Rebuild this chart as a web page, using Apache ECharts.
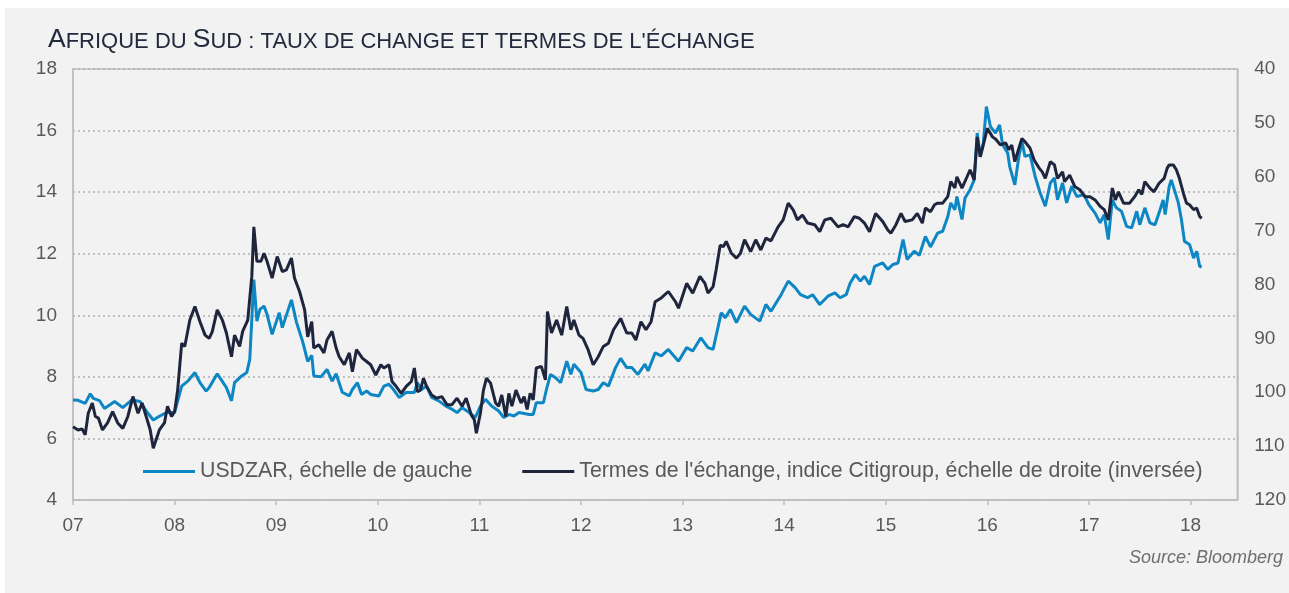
<!DOCTYPE html>
<html>
<head>
<meta charset="utf-8">
<script src="https://cdn.jsdelivr.net/npm/echarts@6/dist/echarts.min.js"></script>
<style>
  html, body { margin: 0; padding: 0; background: #fff; }
  #chart { width: 1289px; height: 593px; }
</style>
</head>
<body>
<div id="chart"></div>
<script>
// dates are decimal years
var yearTicks = [2007, 2008, 2009, 2010, 2011, 2012, 2013, 2014, 2015, 2016, 2017, 2018];

var zarDates = [
  2007.00, 2007.05, 2007.12, 2007.17, 2007.20, 2007.26, 2007.31, 2007.41, 2007.49, 2007.58, 2007.66, 2007.73, 2007.79, 2007.85, 2007.92,
  2008.00, 2008.07, 2008.13, 2008.20, 2008.25, 2008.31, 2008.34, 2008.42, 2008.51, 2008.56, 2008.59, 2008.66, 2008.71, 2008.74, 2008.78, 2008.81, 2008.84, 2008.88, 2008.91, 2008.96,
  2009.03, 2009.06, 2009.15, 2009.20, 2009.26, 2009.31, 2009.35, 2009.37, 2009.44, 2009.50, 2009.55, 2009.59, 2009.65, 2009.72, 2009.75, 2009.80, 2009.84, 2009.89, 2009.93,
  2010.01, 2010.06, 2010.11, 2010.14, 2010.21, 2010.28, 2010.36, 2010.39, 2010.43, 2010.48, 2010.53, 2010.60, 2010.67, 2010.73, 2010.78, 2010.83, 2010.90, 2010.96,
  2011.01, 2011.06, 2011.12, 2011.19, 2011.24, 2011.29, 2011.34, 2011.39, 2011.49, 2011.53, 2011.56, 2011.63, 2011.66, 2011.70, 2011.75, 2011.80, 2011.86, 2011.90, 2011.93,
  2012.00, 2012.05, 2012.12, 2012.17, 2012.22, 2012.27, 2012.34, 2012.39, 2012.45, 2012.50, 2012.56, 2012.63, 2012.66, 2012.73, 2012.79, 2012.86, 2012.96,
  2013.04, 2013.10, 2013.18, 2013.25, 2013.30, 2013.38, 2013.42, 2013.47, 2013.53, 2013.61, 2013.67, 2013.76, 2013.82, 2013.87, 2013.97,
  2014.04, 2014.11, 2014.16, 2014.23, 2014.28, 2014.35, 2014.43, 2014.50, 2014.55, 2014.61, 2014.65, 2014.70, 2014.75, 2014.79, 2014.84, 2014.89, 2014.97,
  2015.02, 2015.07, 2015.12, 2015.17, 2015.21, 2015.28, 2015.33, 2015.39, 2015.44, 2015.51, 2015.56, 2015.61, 2015.64, 2015.68, 2015.70, 2015.75, 2015.78, 2015.83, 2015.87, 2015.90, 2015.93, 2015.96, 2015.99,
  2016.03, 2016.08, 2016.12, 2016.15, 2016.20, 2016.22, 2016.27, 2016.31, 2016.34, 2016.37, 2016.42, 2016.47, 2016.52, 2016.57, 2016.62, 2016.66, 2016.69, 2016.74, 2016.78, 2016.83, 2016.88, 2016.95,
  2017.00, 2017.06, 2017.11, 2017.15, 2017.19, 2017.23, 2017.27, 2017.32, 2017.37, 2017.42, 2017.47, 2017.50, 2017.55, 2017.60, 2017.65, 2017.70, 2017.73, 2017.75, 2017.79, 2017.81, 2017.84, 2017.88, 2017.91, 2017.94, 2017.99,
  2018.03, 2018.06, 2018.09, 2018.11
];
var zarValues = [
  7.25, 7.24, 7.14, 7.45, 7.30, 7.23, 6.97, 7.20, 7.00, 7.25, 7.20, 6.85, 6.60, 6.72, 6.84,
  6.85, 7.70, 7.86, 8.14, 7.81, 7.54, 7.65, 8.10, 7.65, 7.22, 7.81, 8.03, 8.14, 8.57, 11.16, 9.81, 10.19, 10.30, 10.03, 9.38,
  10.08, 9.60, 10.50, 9.77, 9.15, 8.50, 8.70, 8.03, 8.00, 8.24, 7.86, 8.10, 7.50, 7.38, 7.59, 7.81, 7.43, 7.54, 7.43,
  7.38, 7.70, 7.76, 7.65, 7.33, 7.49, 7.49, 7.81, 7.59, 7.70, 7.33, 7.22, 7.05, 6.95, 6.84, 7.00, 6.84, 6.68,
  7.05, 7.27, 7.05, 6.89, 6.68, 6.78, 6.73, 6.84, 6.78, 6.78, 7.16, 7.16, 7.59, 8.08, 7.97, 7.81, 8.51, 8.08, 8.41,
  8.14, 7.59, 7.54, 7.59, 7.81, 7.70, 8.30, 8.60, 8.30, 8.30, 8.08, 8.41, 8.19, 8.78, 8.68, 8.89, 8.51,
  8.95, 8.84, 9.27, 8.95, 8.89, 10.08, 9.92, 10.19, 9.76, 10.30, 10.03, 9.81, 10.35, 10.13, 10.67,
  11.11, 10.89, 10.67, 10.57, 10.67, 10.35, 10.62, 10.73, 10.57, 10.67, 11.05, 11.32, 11.11, 11.27, 11.00, 11.59, 11.70,
  11.49, 11.65, 11.70, 12.46, 11.81, 12.08, 11.95, 12.56, 12.22, 12.67, 12.73, 13.20, 13.65, 13.43, 13.86, 13.11, 13.81, 14.08, 14.40, 15.92, 15.16, 15.59, 16.78,
  16.13, 15.92, 16.18, 15.54, 15.27, 14.83, 14.24, 15.16, 15.65, 15.16, 15.21, 14.51, 13.97, 13.54, 14.30, 14.46, 13.75, 14.30, 13.65, 14.19, 13.86, 13.92,
  13.59, 13.32, 13.00, 13.27, 12.46, 13.75, 13.49, 13.38, 12.89, 12.84, 13.38, 12.94, 13.49, 13.00, 12.94, 13.43, 13.75, 13.27, 14.19, 14.40, 14.08, 13.65, 13.11, 12.40, 12.30,
  11.86, 12.08, 11.59, 11.57
];

var totDates = [
  2007.00, 2007.05, 2007.09, 2007.12, 2007.15, 2007.19, 2007.22, 2007.25, 2007.29, 2007.34, 2007.39, 2007.44, 2007.49, 2007.54, 2007.59, 2007.64, 2007.68, 2007.73, 2007.76, 2007.79, 2007.85, 2007.90, 2007.93, 2007.97,
  2008.00, 2008.03, 2008.07, 2008.10, 2008.15, 2008.20, 2008.25, 2008.30, 2008.34, 2008.37, 2008.42, 2008.47, 2008.51, 2008.56, 2008.59, 2008.64, 2008.67, 2008.72, 2008.76, 2008.78, 2008.81, 2008.85, 2008.88, 2008.91, 2008.96,
  2009.01, 2009.06, 2009.10, 2009.15, 2009.18, 2009.23, 2009.28, 2009.31, 2009.35, 2009.37, 2009.42, 2009.47, 2009.50, 2009.55, 2009.59, 2009.62, 2009.67, 2009.72, 2009.75, 2009.79, 2009.85, 2009.89, 2009.93, 2009.98,
  2010.03, 2010.06, 2010.11, 2010.14, 2010.18, 2010.23, 2010.28, 2010.33, 2010.36, 2010.39, 2010.42, 2010.45, 2010.48, 2010.53, 2010.58, 2010.63, 2010.68, 2010.73, 2010.78, 2010.83, 2010.87, 2010.92, 2010.95, 2010.97,
  2011.01, 2011.04, 2011.07, 2011.11, 2011.16, 2011.19, 2011.22, 2011.26, 2011.29, 2011.32, 2011.36, 2011.41, 2011.44, 2011.47, 2011.50, 2011.53, 2011.56, 2011.61, 2011.65, 2011.67, 2011.71, 2011.76, 2011.81, 2011.86, 2011.90, 2011.93, 2011.98,
  2012.02, 2012.07, 2012.12, 2012.17, 2012.22, 2012.27, 2012.32, 2012.39, 2012.45, 2012.50, 2012.54, 2012.59, 2012.64, 2012.69, 2012.73, 2012.79, 2012.86, 2012.93, 2012.96,
  2013.04, 2013.10, 2013.17, 2013.22, 2013.25, 2013.30, 2013.33, 2013.37, 2013.40, 2013.43, 2013.48, 2013.53, 2013.57, 2013.61, 2013.67, 2013.72, 2013.77, 2013.82, 2013.87, 2013.94, 2013.99,
  2014.04, 2014.09, 2014.13, 2014.18, 2014.23, 2014.30, 2014.35, 2014.40, 2014.46, 2014.53, 2014.58, 2014.63, 2014.69, 2014.74, 2014.79, 2014.84, 2014.90, 2014.97,
  2015.02, 2015.05, 2015.10, 2015.15, 2015.19, 2015.26, 2015.31, 2015.36, 2015.39, 2015.44, 2015.48, 2015.51, 2015.56, 2015.61, 2015.64, 2015.68, 2015.70, 2015.75, 2015.80, 2015.83, 2015.87, 2015.90, 2015.93, 2015.96,
  2016.00, 2016.05, 2016.08, 2016.13, 2016.18, 2016.21, 2016.24, 2016.27, 2016.31, 2016.34, 2016.37, 2016.42, 2016.46, 2016.51, 2016.54, 2016.57, 2016.62, 2016.66, 2016.69, 2016.74, 2016.76, 2016.81, 2016.86, 2016.91, 2016.96,
  2017.01, 2017.06, 2017.11, 2017.15, 2017.19, 2017.23, 2017.26, 2017.29, 2017.34, 2017.40, 2017.45, 2017.49, 2017.52, 2017.55, 2017.60, 2017.64, 2017.69, 2017.74, 2017.77, 2017.79, 2017.83, 2017.86, 2017.89, 2017.93, 2017.96, 2017.99,
  2018.03, 2018.06, 2018.09, 2018.11
];
var totValues = [
  106.4, 107.0, 106.8, 107.9, 103.9, 102.0, 104.5, 104.8, 107.0, 105.7, 103.6, 105.7, 106.7, 104.5, 100.8, 103.9, 102.0, 105.1, 107.0, 110.4, 107.0, 105.7, 102.6, 104.5,
  103.6, 99.6, 90.9, 91.5, 86.6, 84.1, 86.9, 89.4, 90.0, 88.8, 84.7, 86.6, 89.0, 93.4, 89.4, 91.5, 88.7, 86.6, 78.5, 69.3, 75.7, 75.7, 74.2, 75.7, 78.8,
  74.8, 77.6, 77.3, 75.1, 78.8, 81.3, 84.7, 89.7, 86.9, 91.8, 91.2, 92.7, 90.3, 88.7, 91.8, 93.4, 94.9, 92.7, 96.2, 92.1, 93.7, 94.3, 94.9, 96.8,
  94.9, 95.5, 94.9, 98.0, 98.9, 100.2, 98.9, 98.0, 95.5, 99.9, 99.6, 97.4, 98.9, 100.5, 101.1, 100.8, 102.3, 102.3, 101.1, 102.6, 101.1, 104.2, 105.1, 107.6,
  103.9, 99.6, 97.4, 98.3, 102.0, 102.6, 100.5, 104.5, 100.2, 102.6, 99.6, 102.0, 100.8, 103.2, 100.2, 101.4, 95.5, 95.2, 97.7, 85.0, 89.0, 86.6, 89.4, 84.1, 88.4, 86.6, 89.4,
  90.0, 92.1, 94.9, 93.4, 91.5, 90.9, 88.4, 86.3, 89.0, 89.0, 90.3, 86.9, 88.4, 86.9, 83.2, 82.5, 81.3, 83.2, 84.4,
  79.8, 81.6, 78.5, 79.8, 81.6, 80.4, 77.3, 72.7, 73.0, 72.0, 74.2, 75.1, 74.2, 71.7, 73.9, 71.7, 73.6, 71.4, 71.9, 69.3, 68.0,
  64.9, 66.2, 68.0, 67.1, 68.6, 68.9, 70.2, 68.0, 67.7, 69.3, 68.9, 69.3, 67.4, 67.7, 68.6, 70.2, 66.8, 68.3,
  69.9, 70.5, 68.9, 66.8, 68.3, 68.0, 66.8, 68.6, 65.8, 66.5, 65.2, 64.9, 64.9, 63.7, 60.9, 62.1, 60.0, 62.1, 60.0, 58.7, 60.6, 52.6, 56.3, 54.1,
  51.0, 52.6, 53.0, 54.1, 53.7, 55.0, 54.1, 57.2, 54.7, 52.9, 53.5, 54.7, 56.9, 58.4, 59.1, 60.3, 57.2, 57.8, 60.3, 59.1, 60.9, 59.7, 61.8, 62.4, 63.7,
  63.7, 64.3, 65.5, 66.1, 68.0, 62.1, 64.3, 62.8, 64.9, 64.9, 63.7, 62.4, 63.3, 60.9, 62.1, 62.8, 61.2, 60.3, 58.4, 57.8, 57.8, 58.7, 60.3, 63.1, 64.9, 65.2,
  66.1, 65.8, 67.4, 67.7
];

var FONT = '"Liberation Sans", Arial, Helvetica, sans-serif';
var gridColor = '#bfbfbf';
var labelColor = '#595959';

function pairs(dates, values) {
  var out = [];
  for (var i = 0; i < dates.length; i++) {
    out.push([dates[i], values[i]]);
  }
  return out;
}

var myChart = echarts.init(document.getElementById('chart'), null, { renderer: 'canvas' });

var option = {
  backgroundColor: '#ffffff',
  animation: false,
  graphic: [
    {
      type: 'rect',
      z: -10,
      shape: { x: 5, y: 8, width: 1284, height: 585 },
      style: { fill: '#f2f2f2' },
      silent: true
    },
    {
      type: 'text',
      right: 6,
      top: 549,
      style: {
        text: 'Source: Bloomberg',
        font: 'italic 18px ' + FONT,
        fill: '#6e6e6e'
      }
    }
  ],
  title: {
    left: 43,
    top: 21,
    text: "{b|A}{s|FRIQUE DU }{b|S}{s|UD : TAUX DE CHANGE ET TERMES DE L'ÉCHANGE}",
    textStyle: {
      fontFamily: FONT,
      fontWeight: 'normal',
      rich: {
        b: { fontSize: 26.5, fontWeight: 'normal', color: '#232a3d', fontFamily: FONT, verticalAlign: 'bottom' },
        s: { fontSize: 22, fontWeight: 'normal', color: '#232a3d', fontFamily: FONT, verticalAlign: 'bottom' }
      }
    }
  },
  legend: {
    left: 138,
    top: 456,
    icon: 'rect',
    itemWidth: 52,
    itemHeight: 3,
    itemGap: 50,
    textStyle: { fontFamily: FONT, fontSize: 21.3, color: labelColor },
    data: ["USDZAR, échelle de gauche", "Termes de l'échange, indice Citigroup, échelle de droite (inversée)"]
  },
  grid: {
    left: 73,
    right: 48,
    top: 69,
    bottom: 93,
    show: true,
    backgroundColor: '#f2f2f2',
    borderColor: gridColor,
    borderWidth: 1.5
  },
  xAxis: {
    type: 'value',
    min: 2007,
    max: 2018.46,
    interval: 1,
    axisLine: { show: true, lineStyle: { color: gridColor, width: 1.5 } },
    axisTick: { show: true, length: 5, customValues: yearTicks, lineStyle: { color: gridColor, width: 1.5 } },
    axisLabel: {
      customValues: yearTicks,
      margin: 16,
      fontFamily: FONT,
      fontSize: 19,
      color: labelColor,
      formatter: function (v) { return String(v).slice(2); }
    },
    splitLine: { show: false }
  },
  yAxis: [
    {
      type: 'value',
      min: 4,
      max: 18,
      interval: 2,
      axisLine: { show: true, lineStyle: { color: gridColor, width: 1.5 } },
      axisTick: { show: false },
      axisLabel: { margin: 16, fontFamily: FONT, fontSize: 19, color: labelColor },
      splitLine: { show: true, lineStyle: { color: '#b0b0b0', type: [2, 3], width: 1.5 } }
    },
    {
      type: 'value',
      min: 40,
      max: 120,
      interval: 10,
      inverse: true,
      position: 'right',
      axisLine: { show: true, lineStyle: { color: gridColor, width: 1.5 } },
      axisTick: { show: false },
      axisLabel: { margin: 17, fontFamily: FONT, fontSize: 19, color: labelColor },
      splitLine: { show: false }
    }
  ],
  series: [
    {
      name: "USDZAR, échelle de gauche",
      type: 'line',
      yAxisIndex: 0,
      symbol: 'none',
      lineStyle: { color: '#0d86c4', width: 3 },
      itemStyle: { color: '#0d86c4' },
      data: pairs(zarDates, zarValues)
    },
    {
      name: "Termes de l'échange, indice Citigroup, échelle de droite (inversée)",
      type: 'line',
      yAxisIndex: 1,
      symbol: 'none',
      lineStyle: { color: '#1f253d', width: 3 },
      itemStyle: { color: '#1f253d' },
      data: pairs(totDates, totValues)
    }
  ]
};

myChart.setOption(option);
</script>
</body>
</html>
